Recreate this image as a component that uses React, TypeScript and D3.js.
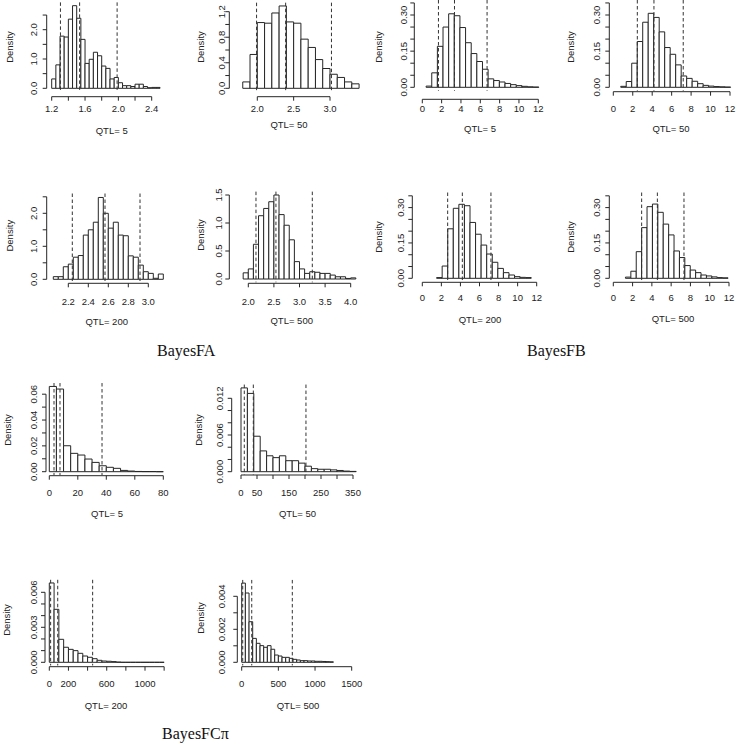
import React from "react";
import * as d3 from "d3";

// ---------------- data ----------------
const groupTitles = ["BayesFA", "BayesFB", "BayesFCπ"];
const panelTitles = [
  "QTL= 5", "QTL= 50", "QTL= 5", "QTL= 50",
  "QTL= 200", "QTL= 500", "QTL= 200", "QTL= 500",
  "QTL= 5", "QTL= 50", "QTL= 200", "QTL= 500",
];

// [first break, bin width]
const faQ5Bins = [1.2, 0.05];
const faQ5Density = [0.32, 0.8, 1.78, 1.75, 2.36, 2.82, 2.39, 1.67, 0.85, 0.99, 1.23, 1.11, 0.76, 0.68, 0.32, 0.37, 0.19, 0.09, 0.09, 0.06, 0.14, 0.14, 0.06, 0.02, 0.03, 0.03];
const faQ5Lines = [1.305, 1.535, 1.985];

const faQ50Bins = [1.8, 0.1];
const faQ50Density = [0.1, 0.53, 1.03, 1.02, 1.18, 1.29, 1.04, 1.02, 0.77, 0.64, 0.45, 0.31, 0.22, 0.17, 0.1, 0.07];
const faQ50Lines = [1.99, 2.39, 3.02];

const fbQ5Bins = [0.395, 0.583];
const fbQ5Density = [0.005, 0.06, 0.17, 0.25, 0.305, 0.297, 0.248, 0.185, 0.14, 0.107, 0.075, 0.035, 0.028, 0.022, 0.016, 0.011, 0.007, 0.004, 0.002, 0.001];
const fbQ5Lines = [1.67, 3.33, 6.7];

const fbQ50Bins = [0.765, 0.565];
const fbQ50Density = [0.004, 0.024, 0.1, 0.19, 0.27, 0.307, 0.29, 0.23, 0.165, 0.137, 0.093, 0.047, 0.037, 0.025, 0.015, 0.008, 0.005, 0.003, 0.002, 0.001];
const fbQ50Lines = [2.47, 4.18, 7.19];

const faQ200Bins = [2.05, 0.05];
const faQ200Density = [0.08, 0.08, 0.38, 0.46, 0.67, 0.72, 1.34, 1.5, 1.73, 2.48, 2.0, 1.55, 1.73, 1.34, 1.32, 0.71, 0.67, 0.43, 0.23, 0.18, 0.03, 0.16];
const faQ200Lines = [2.24, 2.567, 2.917];

const faQ500Bins = [1.9, 0.1];
const faQ500Density = [0.11, 0.18, 0.62, 1.13, 1.26, 1.38, 1.5, 1.15, 0.96, 0.7, 0.31, 0.18, 0.1, 0.13, 0.12, 0.1, 0.1, 0.07, 0.04, 0.04, 0.01, 0.02];
const faQ500Lines = [2.15, 2.54, 3.25];

const fbQ200Bins = [1.5, 0.584];
const fbQ200Density = [0.003, 0.052, 0.21, 0.297, 0.314, 0.308, 0.237, 0.187, 0.141, 0.103, 0.068, 0.042, 0.024, 0.014, 0.007, 0.004, 0.003];
const fbQ200Lines = [2.66, 4.2, 7.2];

const fbQ500Bins = [1.26, 0.56];
const fbQ500Density = [0.005, 0.03, 0.113, 0.215, 0.304, 0.315, 0.28, 0.23, 0.184, 0.116, 0.088, 0.054, 0.035, 0.024, 0.014, 0.01, 0.006, 0.003, 0.002];
const fbQ500Lines = [2.94, 4.57, 7.33];

const fcQ5Bins = [0, 5];
const fcQ5Density = [0.066, 0.064, 0.0201, 0.0142, 0.0129, 0.0098, 0.0072, 0.0046, 0.0034, 0.0026, 0.001, 0.0005, 0.0002, 0.0001, 0.0001, 0];
const fcQ5Lines = [3.3, 7.5, 37];

const fcQ50Bins = [0, 20];
const fcQ50Density = [0.0137, 0.0128, 0.0058, 0.0034, 0.0026, 0.0023, 0.0026, 0.0018, 0.0018, 0.0014, 0.0009, 0.0005, 0.0004, 0.0004, 0.0003, 0.0002, 0.0001, 0.00005];
const fcQ50Lines = [10.3, 38.5, 203];

const fcQ200Bins = [0, 50];
const fcQ200Density = [0.0068, 0.00454, 0.00197, 0.00129, 0.00111, 0.001, 0.00077, 0.00054, 0.00043, 0.00031, 0.00017, 0.00011, 0.00009, 0.00006, 0.00002, 0, 0, 0, 0, 0, 0, 0, 0, 0];
const fcQ200Lines = [14, 88, 453];

const fcQ500Bins = [0, 50];
const fcQ500Density = [0.0048, 0.0042, 0.00246, 0.00145, 0.00115, 0.00101, 0.00091, 0.00101, 0.00079, 0.00044, 0.00038, 0.0003, 0.0003, 0.00024, 0.00018, 0.00014, 0.0001, 0.0001, 0.00008, 0.00008, 0.00006, 0.00006, 0.00005, 0.00004, 0.00003];
const fcQ500Lines = [14, 137, 690];

// tick values and labels
const faQ5XTicks = [1.2, 1.4, 1.6, 1.8, 2.0, 2.2, 2.4];
const faQ5XLabels = ["1.2", "", "1.6", "", "2.0", "", "2.4"];
const faQ50XTicks = [2.0, 2.5, 3.0];
const faQ50XLabels = ["2.0", "2.5", "3.0"];
const fbXTicks = [0, 2, 4, 6, 8, 10, 12];
const fbXLabels = ["0", "2", "4", "6", "8", "10", "12"];
const faQ200XTicks = [2.2, 2.4, 2.6, 2.8, 3.0];
const faQ200XLabels = ["2.2", "2.4", "2.6", "2.8", "3.0"];
const faQ500XTicks = [2.0, 2.5, 3.0, 3.5, 4.0];
const faQ500XLabels = ["2.0", "2.5", "3.0", "3.5", "4.0"];
const fcQ5XTicks = [0, 20, 40, 60, 80];
const fcQ5XLabels = ["0", "20", "40", "60", "80"];
const fcQ50XTicks = [0, 50, 100, 150, 200, 250, 300, 350];
const fcQ50XLabels = ["0", "50", "", "150", "", "250", "", "350"];
const fcQ200XTicks = [0, 200, 400, 600, 800, 1000, 1200];
const fcQ200XLabels = ["0", "200", "", "600", "", "1000", ""];
const fcQ500XTicks = [0, 500, 1000, 1500];
const fcQ500XLabels = ["0", "500", "1000", "1500"];

const faYTicks = [0, 0.5, 1, 1.5, 2, 2.5];
const faYLabels = ["0.0", "", "1.0", "", "2.0", ""];
const faQ50YTicks = [0, 0.2, 0.4, 0.6, 0.8, 1.0, 1.2];
const faQ50YLabels = ["0.0", "", "0.4", "", "0.8", "", "1.2"];
const faQ500YTicks = [0, 0.5, 1, 1.5];
const faQ500YLabels = ["0.0", "0.5", "1.0", "1.5"];
const fbYTicks = [0, 0.05, 0.1, 0.15, 0.2, 0.25, 0.3, 0.35];
const fbYLabels = ["0.00", "", "", "0.15", "", "", "0.30", ""];
const fcQ5YTicks = [0, 0.01, 0.02, 0.03, 0.04, 0.05, 0.06];
const fcQ5YLabels = ["0.00", "", "0.02", "", "0.04", "", "0.06"];
const fcQ50YTicks = [0, 0.002, 0.004, 0.006, 0.008, 0.01, 0.012];
const fcQ50YLabels = ["0.000", "", "", "0.006", "", "", "0.012"];
const fcQ200YTicks = [0, 0.001, 0.002, 0.003, 0.004, 0.005, 0.006];
const fcQ200YLabels = ["0.000", "", "", "0.003", "", "", "0.006"];
const fcQ500YTicks = [0, 0.001, 0.002, 0.003, 0.004];
const fcQ500YLabels = ["0.000", "", "0.002", "", "0.004"];

// ---------------- layout (pixel placement of each panel) ----------------
type Layout = {
  xv: number[]; xp: number[]; yv: number; yp: number[];
  axisX: number; axisY: number; yLabX: number; xLabY: number;
  titleX: number; titleY: number; densX: number; densY: number;
};

const L = (xv: number[], xp: number[], yv: number, yp: number[], axisX: number, axisY: number,
  yLabX: number, xLabY: number, titleX: number, titleY: number, densX: number, densY: number): Layout =>
  ({ xv, xp, yv, yp, axisX, axisY, yLabX, xLabY, titleX, titleY, densX, densY });

const panels = [
  { bins: faQ5Bins, density: faQ5Density, lines: faQ5Lines, xt: faQ5XTicks, xl: faQ5XLabels, yt: faYTicks, yl: faYLabels,
    lay: L([1.2, 2.4], [51.7, 151.7], 2.0, [88.3, 29.7], 46.7, 96.7, 33.3, 108.3, 111.7, 131, 10, 47) },
  { bins: faQ50Bins, density: faQ50Density, lines: faQ50Lines, xt: faQ50XTicks, xl: faQ50XLabels, yt: faQ50YTicks, yl: faQ50YLabels,
    lay: L([2.0, 3.0], [257.3, 330], 1.2, [88.3, 11.7], 229.3, 96.7, 221.7, 109, 289, 125, 200.7, 47) },
  { bins: fbQ5Bins, density: fbQ5Density, lines: fbQ5Lines, xt: fbXTicks, xl: fbXLabels, yt: fbYTicks, yl: fbYLabels,
    lay: L([0, 12], [422.3, 538.3], 0.3, [87.3, 15], 414.3, 99.3, 403.3, 108.3, 480, 128.3, 379, 47) },
  { bins: fbQ50Bins, density: fbQ50Density, lines: fbQ50Lines, xt: fbXTicks, xl: fbXLabels, yt: fbYTicks, yl: fbYLabels,
    lay: L([0, 12], [613.3, 730], 0.3, [87.3, 15], 609.3, 91.7, 596.7, 108.3, 671, 128.3, 570.7, 47) },
  { bins: faQ200Bins, density: faQ200Density, lines: faQ200Lines, xt: faQ200XTicks, xl: faQ200XLabels, yt: faYTicks, yl: faYLabels,
    lay: L([2.2, 3.0], [68.3, 148.3], 2.0, [279.3, 213.3], 46.7, 283.3, 33.3, 301.7, 106.7, 321.7, 10, 235.7) },
  { bins: faQ500Bins, density: faQ500Density, lines: faQ500Lines, xt: faQ500XTicks, xl: faQ500XLabels, yt: faQ500YTicks, yl: faQ500YLabels,
    lay: L([2.0, 4.0], [248.3, 350.7], 1.5, [279, 195], 229.3, 283.3, 218.3, 301.7, 291.7, 321, 200.7, 235) },
  { bins: fbQ200Bins, density: fbQ200Density, lines: fbQ200Lines, xt: fbXTicks, xl: fbXLabels, yt: fbYTicks, yl: fbYLabels,
    lay: L([0, 12], [422.3, 536.7], 0.3, [278.3, 207.6], 412.3, 282.3, 401, 297.7, 480, 320, 379, 237) },
  { bins: fbQ500Bins, density: fbQ500Density, lines: fbQ500Lines, xt: fbXTicks, xl: fbXLabels, yt: fbYTicks, yl: fbYLabels,
    lay: L([0, 12], [613.3, 729], 0.3, [278.3, 207.6], 609.3, 282.3, 596.7, 297.7, 673, 319, 571, 237) },
  { bins: fcQ5Bins, density: fcQ5Density, lines: fcQ5Lines, xt: fcQ5XTicks, xl: fcQ5XLabels, yt: fcQ5YTicks, yl: fcQ5YLabels,
    lay: L([0, 80], [49.3, 163.3], 0.06, [471.7, 394.2], 46, 475.7, 33.3, 492.3, 107, 513.3, 7.3, 430) },
  { bins: fcQ50Bins, density: fcQ50Density, lines: fcQ50Lines, xt: fcQ50XTicks, xl: fcQ50XLabels, yt: fcQ50YTicks, yl: fcQ50YLabels,
    lay: L([0, 350], [241, 353], 0.006, [471.7, 435], 231.7, 475, 220, 492.3, 297.5, 513.3, 198.3, 430) },
  { bins: fcQ200Bins, density: fcQ200Density, lines: fcQ200Lines, xt: fcQ200XTicks, xl: fcQ200XLabels, yt: fcQ200YTicks, yl: fcQ200YLabels,
    lay: L([0, 1000], [49.3, 145], 0.003, [662.3, 627.3], 45, 666.7, 33.3, 683.3, 106, 706, 7, 620) },
  { bins: fcQ500Bins, density: fcQ500Density, lines: fcQ500Lines, xt: fcQ500XTicks, xl: fcQ500XLabels, yt: fcQ500YTicks, yl: fcQ500YLabels,
    lay: L([0, 1500], [241.7, 351.7], 0.002, [662.3, 629.3], 237.3, 666.7, 221.7, 683.3, 298, 706, 200.7, 618) },
];

const groupTitlePos = [
  [157, 356],
  [527, 356],
  [162, 739],
];

const INK = "#262626";
const SANS = "'Liberation Sans', Arial, Helvetica, sans-serif";
const SERIF = "'Liberation Serif', 'Times New Roman', serif";

function Panel({ p, title }: { p: typeof panels[number]; title: string }) {
  const l = p.lay;
  const x = d3.scaleLinear().domain(l.xv).range(l.xp);
  const y = d3.scaleLinear().domain([0, l.yv]).range(l.yp);
  const [start, w] = p.bins;
  const rects = p.density.map((v, i) => ({ x0: start + i * w, x1: start + (i + 1) * w, v }));
  const ylimTop = Math.max(d3.max(p.density) as number, p.yt[p.yt.length - 1]);
  const lineTop = Math.max(0, y(ylimTop * 1.04));
  const lineBot = y(-ylimTop * 0.04);
  const xt0 = p.xt[0], xt1 = p.xt[p.xt.length - 1];
  const yt1 = p.yt[p.yt.length - 1];
  const barPath = (r: { x0: number; x1: number; v: number }) => {
    const pth = d3.path();
    pth.moveTo(x(r.x0), y(0));
    pth.lineTo(x(r.x0), y(r.v));
    pth.lineTo(x(r.x1), y(r.v));
    pth.lineTo(x(r.x1), y(0));
    pth.closePath();
    return pth.toString();
  };
  return (
    <g>
      {rects.map((r, i) => (
        <path key={i} d={barPath(r)} fill="#fff" stroke={INK} strokeWidth={1} />
      ))}
      {p.lines.map((v, i) => (
        <line key={i} x1={x(v)} x2={x(v)} y1={lineTop} y2={lineBot} stroke="#333" strokeWidth={1} strokeDasharray="3.5,2.5" />
      ))}
      {/* x axis */}
      <line x1={x(xt0)} x2={x(xt1)} y1={l.axisY} y2={l.axisY} stroke={INK} strokeWidth={1} />
      {p.xt.map((t, i) => (
        <g key={i}>
          <line x1={x(t)} x2={x(t)} y1={l.axisY} y2={l.axisY + 4} stroke={INK} strokeWidth={1} />
          {p.xl[i] && (
            <text x={x(t)} y={l.xLabY} dy="0.35em" textAnchor="middle" fontSize={9.5} fontFamily={SANS} fill="#222">{p.xl[i]}</text>
          )}
        </g>
      ))}
      {/* y axis */}
      <line x1={l.axisX} x2={l.axisX} y1={y(0)} y2={y(yt1)} stroke={INK} strokeWidth={1} />
      {p.yt.map((t, i) => (
        <g key={i}>
          <line x1={l.axisX - 4} x2={l.axisX} y1={y(t)} y2={y(t)} stroke={INK} strokeWidth={1} />
          {p.yl[i] && (
            <text transform={`translate(${l.yLabX},${y(t)}) rotate(-90)`} dy="0.35em" textAnchor="middle"
              fontSize={9.5} fontFamily={SANS} fill="#222">{p.yl[i]}</text>
          )}
        </g>
      ))}
      <text transform={`translate(${l.densX},${l.densY}) rotate(-90)`} dy="0.35em" textAnchor="middle"
        fontSize={9.5} fontFamily={SANS} fill="#222">Density</text>
      <text x={l.titleX} y={l.titleY} dy="0.35em" textAnchor="middle" fontSize={9.5} fontFamily={SANS} fill="#222">{title}</text>
    </g>
  );
}

export default function App() {
  return (
    <svg width={739} height={744} viewBox="0 0 739 744"
      style={{ position: "absolute", left: 0, top: 0, background: "#fff" }}>
      <rect width={739} height={744} fill="#fff" />
      {panels.map((p, i) => (
        <Panel key={i} p={p} title={panelTitles[i]} />
      ))}
      {groupTitles.map((t, i) => (
        <text key={t} x={groupTitlePos[i][0]} y={groupTitlePos[i][1]} fontSize={16} fontFamily={SERIF} fill="#111">{t}</text>
      ))}
    </svg>
  );
}
